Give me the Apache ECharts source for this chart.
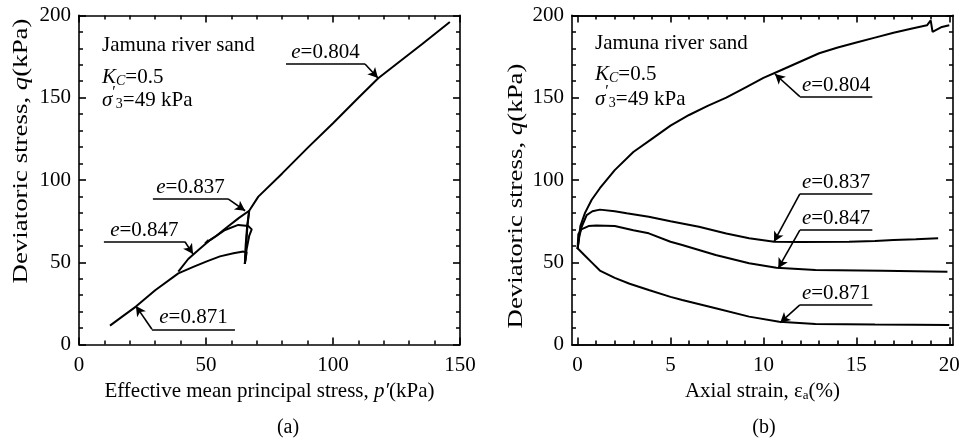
<!DOCTYPE html>
<html>
<head>
<meta charset="utf-8">
<script src="https://cdn.jsdelivr.net/npm/echarts@6/dist/echarts.min.js"></script>
<style>
html,body{margin:0;padding:0;background:#fff;}
#c{width:970px;height:443px;}
</style>
</head>
<body>
<div id="c"></div>
<script>
// ---------- data: (a) stress paths  [p', q] ----------
const a804 = [[65.3,49],[65.6,60],[66.2,72],[67,81.3],[70.6,89.9],[80,104],[90,119.5],[100,134.5],[110,150],[117.8,161.8],[125,170.5],[135,182.5],[146,196]];
const a837 = [[65.3,49],[65.8,60],[66.3,72],[67,81.3],[63,77],[58,71],[54,66],[49.6,61.5],[51,63.5]];
const a847 = [[65.3,49],[66,58],[67,66],[68,70],[66.7,72],[62.7,72.7],[57.5,69.6],[51.6,63.5],[47,57.5],[43,52],[39.1,44.3]];
const a871 = [[65.3,49],[66,56],[64.7,56.5],[60.8,55.5],[55.5,53.6],[50.3,50.6],[45,47.2],[39.1,43.3],[30,33],[22.4,23.1],[17,17],[12.2,11.5]];

// ---------- data: (b) stress-strain  [eps_a, q] ----------
const b804 = [[0,58],[0.15,72],[0.4,80],[0.76,88],[1.2,95],[2,106],[3,117],[4,125],[5,133],[6,139.5],[7,145],[8,150],[9,156],[10,162],[11,167],[12,172],[13,177],[14,180.5],[15,183.5],[16,186.5],[17,189.5],[18,192],[18.8,194],[19,197],[19.1,190],[19.6,193],[20,194]];
const b837 = [[0,58],[0.1,66],[0.22,71.6],[0.49,78.7],[0.8,81],[1.2,82],[2,81],[2.64,79.8],[3.83,77.7],[5,75],[6.53,71.6],[8,67.5],[9.23,64.6],[10.58,62.5],[12,62.3],[14.6,62.5],[16,63],[17,63.5],[18.2,64],[19.4,64.6]];
const b847 = [[0,58],[0.04,67],[0.2,70],[0.59,72],[1,72.3],[2,72],[3,69.5],[3.83,67.6],[5,62.5],[5.63,60.5],[7.43,54.4],[9.23,49.4],[10.7,46.7],[12.8,45.3],[16.4,44.9],[19.9,44.3]];
const b871 = [[0,58.5],[0.4,54],[0.8,49.5],[1.2,45],[2,40.5],[2.8,37],[3.83,33.2],[5,29],[5.63,27.1],[7.43,22.1],[9.23,17],[10.85,13.9],[12.8,12.5],[16,12.2],[20,11.9]];

// ---------- axis ticks ----------
const xTicksB = [0,5,10,15,20];
const xMinorB = [1,2,3,4,6,7,8,9,11,12,13,14,16,17,18,19];

// ---------- labels ----------
const labels = ['0.804','0.837','0.847','0.871'];
const xNameA = 'Effective mean principal stress, ';
const xNameB = 'Axial strain, ';
const yName = 'Deviatoric stress, ';

// annotation leaders: [xLeft, xRight, yUnderline, tipX, tipY, arrowFrom('L'|'R')]
const annA = [[81.5,112.6,170.5,117.7,162,'R'],[29.1,58.7,88.5,65.4,81.3,'R'],[9.8,41.7,62.5,44.9,55,'R'],[28.7,61.4,9.3,22.4,23.5,'L']];
const annB = [[11.96,15.86,150.6,10.62,164.4,'L'],[11.96,15.86,91.5,10.57,62.5,'L'],[11.96,15.86,69.6,10.8,46.4,'L'],[11.96,15.86,24.1,10.9,13.3,'L']];

const FONT = '"Liberation Serif","Times New Roman",serif';
const FS = 21;

function leader(a, lab){
  const [xl,xr,y,tx,ty,side] = a;
  const from = side==='L' ? [xl,y] : [xr,y];
  return [
    [{coord:[xl,y], symbol:'none', label:{show:true, position:'insideMiddleTop', distance:1,
        formatter:'{i|e}=' + lab, fontFamily:FONT, fontSize:FS, color:'#000',
        rich:{i:{fontStyle:'italic', fontFamily:FONT, fontSize:FS, color:'#000'}}}},
     {coord:[xr,y], symbol:'none'}],
    [{coord:from, symbol:'none', label:{show:false}},
     {coord:[tx,ty], symbol:'arrow'}]
  ];
}

function lineSeries(data, xi, yi, ann, lab){
  return {
    type:'line', data:data, xAxisIndex:xi, yAxisIndex:yi, showSymbol:false, symbol:'none',
    lineStyle:{color:'#000', width:2}, silent:true, z:3,
    markLine:{silent:true, symbol:['none','arrow'], symbolSize:[8,10],
      lineStyle:{color:'#000', width:1.6, type:'solid'}, label:{show:false},
      data: leader(ann, lab)}
  };
}

function labStyle(show, margin){
  return {show:show, margin:margin, fontFamily:FONT, fontSize:FS, color:'#000'};
}
function axisLineOpt(){ return {show:true, onZero:false, lineStyle:{color:'#000', width:1.6}}; }

const G0 = {left:79, top:15.4, width:381, height:329.2};
const G1 = {left:572, top:15.4, width:381, height:329.2};

function valAxis(isX, grid, pos, min, max, interval, showLabel){
  return {
    type:'value', gridIndex:grid, position:pos, min:min, max:max, interval:interval,
    axisLine:axisLineOpt(), splitLine:{show:false},
    axisTick:{show:true, inside:true, length:7, lineStyle:{color:'#000', width:1.6}},
    minorTick:{show:true, splitNumber:5, length:4, lineStyle:{color:'#000', width:1.5}},
    axisLabel:labStyle(showLabel, isX ? 10 : 8)
  };
}
function customAxis(pos, values, len, showLabel){
  return {
    type:'value', gridIndex:1, position:pos, min:-0.3, max:20.2,
    axisLine:axisLineOpt(), splitLine:{show:false},
    axisTick:{show:true, inside:true, length:len, customValues:values.slice(), lineStyle:{color:'#000', width:1.6}},
    axisLabel:Object.assign(labStyle(showLabel, 10), {customValues:values.slice()})
  };
}

const xa0 = valAxis(true,0,'bottom',0,150,50,true);
xa0.name = xNameA + '{i|p\u2032}(kPa)';
xa0.nameLocation = 'middle'; xa0.nameGap = 34;
xa0.nameTextStyle = {fontFamily:FONT, fontSize:FS, color:'#000',
  rich:{i:{fontStyle:'italic', fontFamily:FONT, fontSize:FS, color:'#000'}}};

const xb0 = customAxis('bottom', xTicksB, 7, true);
xb0.name = xNameB + '\u03b5{a|a}(%)';
xb0.nameLocation = 'middle'; xb0.nameGap = 34;
xb0.nameTextStyle = {fontFamily:FONT, fontSize:FS, color:'#000',
  rich:{a:{fontFamily:FONT, fontSize:13, color:'#000', padding:[10,0,0,0]}}};

const option = {
  animation:false,
  backgroundColor:'#fff',
  grid:[G0, G1],
  xAxis:[
    xa0,
    valAxis(true,0,'top',0,150,50,false),
    xb0,
    customAxis('bottom', xMinorB, 4, false),
    customAxis('top', xTicksB, 7, false),
    customAxis('top', xMinorB, 4, false)
  ],
  yAxis:[
    valAxis(false,0,'left',0,200,50,true),
    valAxis(false,0,'right',0,200,50,false),
    valAxis(false,1,'left',0,200,50,true),
    valAxis(false,1,'right',0,200,50,false)
  ],
  series:[
    lineSeries(a804,0,0,annA[0],labels[0]),
    lineSeries(a837,0,0,annA[1],labels[1]),
    lineSeries(a847,0,0,annA[2],labels[2]),
    lineSeries(a871,0,0,annA[3],labels[3]),
    lineSeries(b804,2,2,annB[0],labels[0]),
    lineSeries(b837,2,2,annB[1],labels[1]),
    lineSeries(b847,2,2,annB[2],labels[2]),
    lineSeries(b871,2,2,annB[3],labels[3])
  ],
  graphic:[]
};

function infoBox(x, y0, y1, y2){
  const rich = {
    i:{fontStyle:'italic', fontFamily:FONT, fontSize:FS, fill:'#000', lineHeight:26, verticalAlign:'bottom'},
    n:{fontFamily:FONT, fontSize:FS, fill:'#000', lineHeight:26, verticalAlign:'bottom'},
    s:{fontStyle:'italic', fontFamily:FONT, fontSize:14, fill:'#000', lineHeight:20, verticalAlign:'bottom'},
    d:{fontFamily:FONT, fontSize:14, fill:'#000', lineHeight:20, verticalAlign:'bottom'},
    p:{fontFamily:FONT, fontSize:16, fill:'#000', lineHeight:26, verticalAlign:'top'}
  };
  return [
    {type:'text', x:x, y:y0, style:{text:'Jamuna river sand', font:FS+'px '+FONT, fill:'#000', verticalAlign:'middle', align:'left'}},
    {type:'text', x:x, y:y1, style:{text:'{i|K}{s|C}{n|=0.5}', rich:rich, font:FS+'px '+FONT, fill:'#000', verticalAlign:'middle', align:'left'}},
    {type:'text', x:x, y:y2, style:{text:'{i|\u03c3}{p|\u2032}{d|3}{n|=49 kPa}', rich:rich, font:FS+'px '+FONT, fill:'#000', verticalAlign:'middle', align:'left'}}
  ];
}
function yTitle(cx, cy){
  return {type:'text', x:cx, y:cy, rotation:Math.PI/2, scaleX:1.28,
    style:{text:yName + '{i|q}(kPa)', font:FS+'px '+FONT, fill:'#000', align:'center', verticalAlign:'middle',
      rich:{i:{fontStyle:'italic', fontFamily:FONT, fontSize:FS, fill:'#000'}}}};
}
option.graphic = []
  .concat(infoBox(102, 45, 75, 98))
  .concat(infoBox(595, 43, 72, 97))
  .concat([
    yTitle(21, 151),
    yTitle(516, 196),
    {type:'text', x:288, y:428, style:{text:'(a)', font:'20px '+FONT, fill:'#000', align:'center', verticalAlign:'middle'}},
    {type:'text', x:764, y:428, style:{text:'(b)', font:'20px '+FONT, fill:'#000', align:'center', verticalAlign:'middle'}}
  ]);

const chart = echarts.init(document.getElementById('c'), null, {renderer:'canvas'});
chart.setOption(option);
</script>
</body>
</html>
